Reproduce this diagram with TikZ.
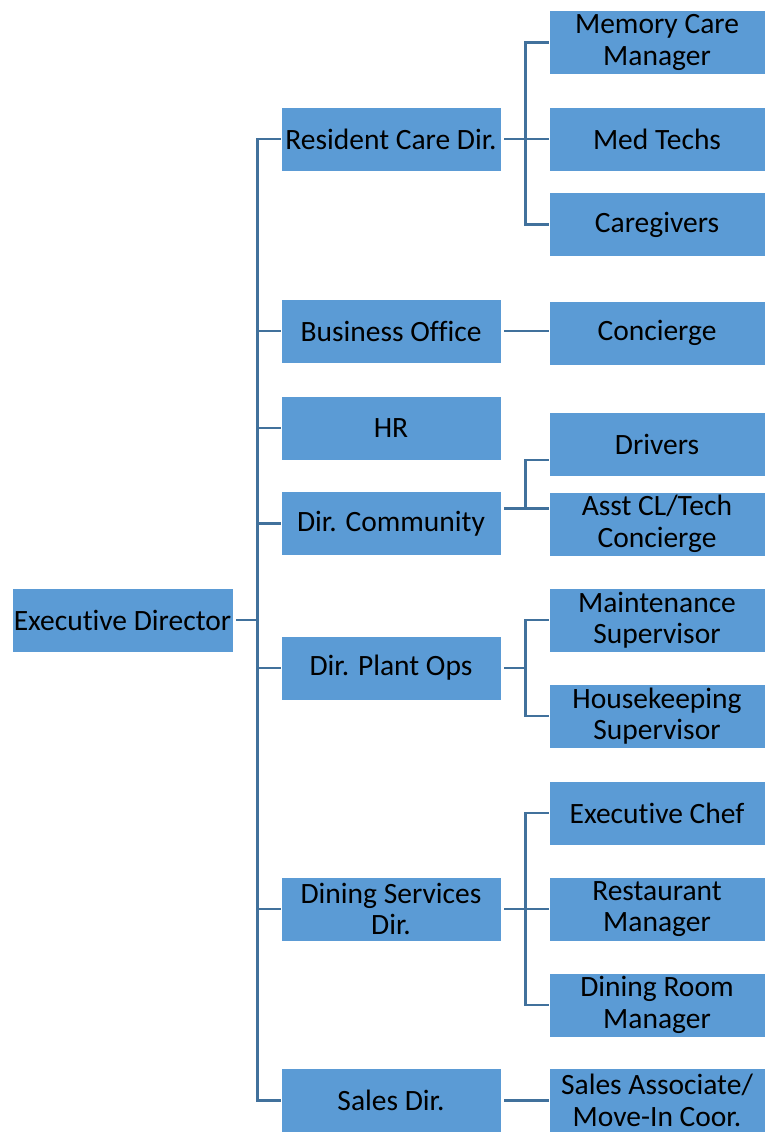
\documentclass[tikz,border=0pt]{standalone}
\usepackage{fontspec}
\setmainfont[Ligatures=NoCommon]{Carlito}
\definecolor{boxblue}{HTML}{5B9BD5}
\definecolor{lineblue}{HTML}{41719C}
\begin{document}
\begin{tikzpicture}[x=1pt,y=-1pt,
  box/.style={rectangle, fill=boxblue, draw=white, line width=0.6pt, inner sep=0pt,
    align=center, text=black, font=\fontsize{29.5}{31.5}\selectfont},
  execbox/.style={box, minimum width=221pt, minimum height=64pt},
  l2/.style={box, minimum width=220pt, minimum height=64pt},
  l3/.style={box, minimum width=216pt, minimum height=64pt},
  conn/.style={draw=lineblue, line width=2.4pt}]
\useasboundingbox (0,0) rectangle (765,1132);

\node[execbox] (exec) at (122.5,620) {Executive Director};

\node[l2] (rcd) at (391,139) {Resident Care Dir.};
\node[l2] (bo)  at (391,331) {Business Office};
\node[l2] (hr)  at (391,428) {HR};
\node[l2] (dc)  at (391,523.5) {Dir. Community};
\node[l2] (dpo) at (391,668) {Dir. Plant Ops};
\node[l2] (dsd) at (391,909) {Dining Services\\Dir.};
\node[l2] (sd)  at (391,1100.5) {Sales Dir.};

\node[l3] (mcm)  at (657,42.5) {Memory Care\\Manager};
\node[l3] (mt)   at (657,139) {Med Techs};
\node[l3] (cg)   at (657,224.5) {Caregivers};
\node[l3] (conc) at (657,333) {Concierge};
\node[l3] (drv)  at (657,444.5) {Drivers};
\node[l3] (asst) at (657,524) {Asst CL/Tech\\Concierge};
\node[l3] (ms)   at (657,620) {Maintenance\\Supervisor};
\node[l3] (hs)   at (657,716) {Housekeeping\\Supervisor};
\node[l3] (ec)   at (657,813) {Executive Chef};
\node[l3] (rm)   at (657,909) {Restaurant\\Manager};
\node[l3] (drm)  at (657,1005) {Dining Room\\Manager};
\node[l3] (sa)   at (657,1100.5) {Sales Associate/\\Move-In Coor.};

% executive director to level 2
\foreach \t in {rcd,bo,hr,dc,dpo,dsd,sd}
  \draw[conn] ([xshift=3pt]exec.east) -- ++(21,0) |- (\t.west);

% resident care
\foreach \t in {mcm,mt,cg}
  \draw[conn] ([xshift=3pt]rcd.east) -- ++(21,0) |- (\t.west);
% business office
\draw[conn] ([xshift=3pt]bo.east) -- (bo.east -| conc.west);
% community
\draw[conn] ([xshift=3pt,yshift=15pt]dc.east) -- ([yshift=15.5pt]asst.west);
\draw[conn] ([xshift=3pt,yshift=15pt]dc.east) -- ++(21,0) |- ([yshift=-15.5pt]drv.west);
% plant ops
\foreach \t in {ms,hs}
  \draw[conn] ([xshift=3pt]dpo.east) -- ++(21,0) |- (\t.west);
% dining
\foreach \t in {ec,rm,drm}
  \draw[conn] ([xshift=3pt]dsd.east) -- ++(21,0) |- (\t.west);
% sales
\draw[conn] ([xshift=3pt]sd.east) -- (sa.west);
\end{tikzpicture}
\end{document}
